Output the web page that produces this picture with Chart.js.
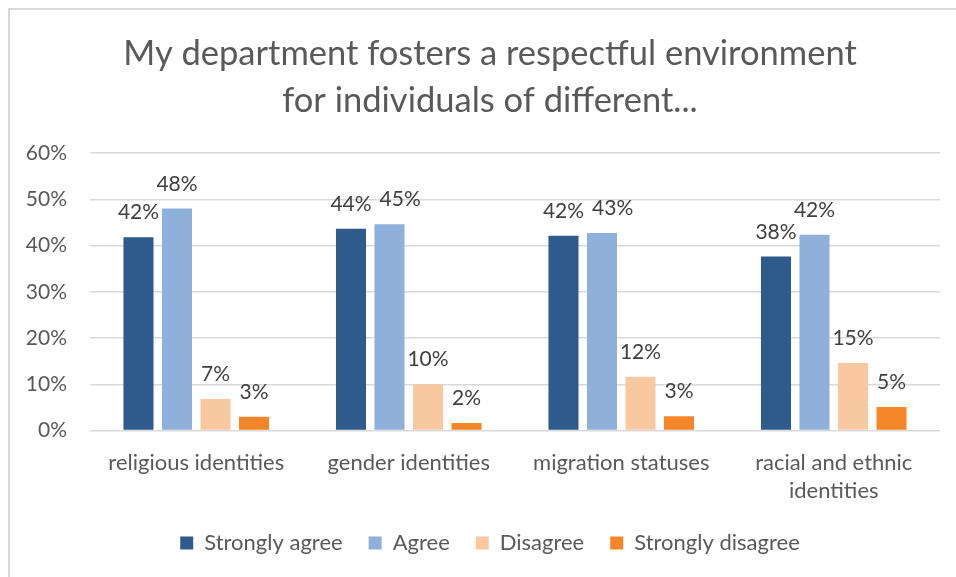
<!DOCTYPE html>
<html>
<head>
<meta charset="utf-8">
<title>Respectful environment survey</title>
<script src="https://cdn.jsdelivr.net/npm/chart.js@4.4.0/dist/chart.umd.min.js"></script>
<style>
  html, body { margin: 0; padding: 0; background: #fff; overflow: hidden; }
  #frame { position: absolute; left: 8px; top: 8px; width: 980px; height: 600px;
           border: 2px solid #d9d9d9; box-sizing: border-box; }
  #wrap { position: absolute; left: 0; top: 0; width: 956px; height: 577px; }
</style>
</head>
<body>
<div id="frame"></div>
<div id="wrap"><canvas id="survey-chart" width="956" height="577"></canvas></div>
<script>
var titleLines = ["My department fosters a respectful environment", "for individuals of different..."];
var categories = ["religious identities", "gender identities", "migration statuses", ["racial and ethnic", "identities"]];
var seriesNames = ["Strongly agree", "Agree", "Disagree", "Strongly disagree"];
var stronglyAgree = [41.8, 43.6, 42.1, 37.6];
var agree = [48.0, 44.6, 42.7, 42.3];
var disagree = [6.8, 10.0, 11.6, 14.6];
var stronglyDisagree = [3.0, 1.6, 3.1, 5.1];
var yTicks = [0, 10, 20, 30, 40, 50, 60];

var colors = ["#2E5A8C", "#8FB0DA", "#F8C8A0", "#F5862A"];
var fontFamily = "Lato, 'Open Sans', sans-serif";
var textColor = "#595959";

// value labels above each bar; a label that would collide with the one to its left moves right
var barLabels = {
    id: "barLabels",
    afterDatasetsDraw: function(chart) {
        var ctx = chart.ctx;
        ctx.save();
        ctx.font = "21px " + fontFamily;
        ctx.fillStyle = "#404040";
        ctx.textAlign = "center";
        ctx.textBaseline = "alphabetic";
        var count = chart.data.labels.length;
        for (var i = 0; i < count; i++) {
            var prev = null;
            chart.data.datasets.forEach(function(ds, d) {
                var bar = chart.getDatasetMeta(d).data[i];
                var text = Math.round(ds.data[i]) + "%";
                var w = ctx.measureText(text).width;
                var x = bar.x;
                var y = bar.y - 18;
                if (prev && y > prev.y - 20 && y - 20 < prev.y && x - w / 2 < prev.right + 8) {
                    x = prev.right + 8 + w / 2;
                }
                ctx.fillText(text, x, y);
                prev = { right: x + w / 2, y: y };
            });
        }
        ctx.restore();
    }
};

// title and legend are centred a little right of the canvas middle
var centreBlocks = {
    id: "centreBlocks",
    beforeDraw: function(chart) {
        chart.titleBlock.left = 40;
        chart.legend.left = 40;
    }
};

var seriesData = [stronglyAgree, agree, disagree, stronglyDisagree];
var datasets = seriesNames.map(function(name, k) {
    return {
        label: name,
        data: seriesData[k],
        backgroundColor: colors[k],
        borderWidth: 0,
        categoryPercentage: 0.725,
        barPercentage: 0.78
    };
});

var ctx = document.getElementById("survey-chart");
var surveyChart = new Chart(ctx, {
    type: "bar",
    data: { labels: categories, datasets: datasets },
    plugins: [barLabels, centreBlocks],
    options: {
        responsive: false,
        animation: false,
        layout: { padding: { left: 10, right: 16, top: 8, bottom: 13 } },
        plugins: {
            tooltip: { enabled: false },
            title: {
                display: true,
                text: titleLines,
                color: textColor,
                font: { family: fontFamily, size: 34.5, weight: "normal", lineHeight: 47 / 34.5 },
                padding: { top: 22, bottom: 29 }
            },
            legend: {
                position: "bottom",
                labels: {
                    color: textColor,
                    font: { family: fontFamily, size: 22 },
                    boxWidth: 13,
                    boxHeight: 13,
                    padding: 26
                }
            }
        },
        scales: {
            x: {
                grid: { display: false, drawTicks: false },
                border: { display: false },
                ticks: {
                    color: textColor,
                    font: { family: fontFamily, size: 22, lineHeight: 28.5 / 22 },
                    padding: 18,
                    maxRotation: 0,
                    autoSkip: false
                },
                afterFit: function(scale) { scale.height = 75.5; }
            },
            y: {
                min: yTicks[0],
                max: yTicks[yTicks.length - 1],
                afterBuildTicks: function(scale) {
                    scale.ticks = yTicks.map(function(v) { return { value: v }; });
                },
                grid: { color: "#d9d9d9", lineWidth: 1.5, drawTicks: false },
                border: { display: false },
                ticks: {
                    color: textColor,
                    font: { family: fontFamily, size: 21 },
                    padding: 23,
                    callback: function(v) { return v + "%"; }
                },
                afterFit: function(scale) { scale.width = 80; }
            }
        }
    }
});
</script>
</body>
</html>
